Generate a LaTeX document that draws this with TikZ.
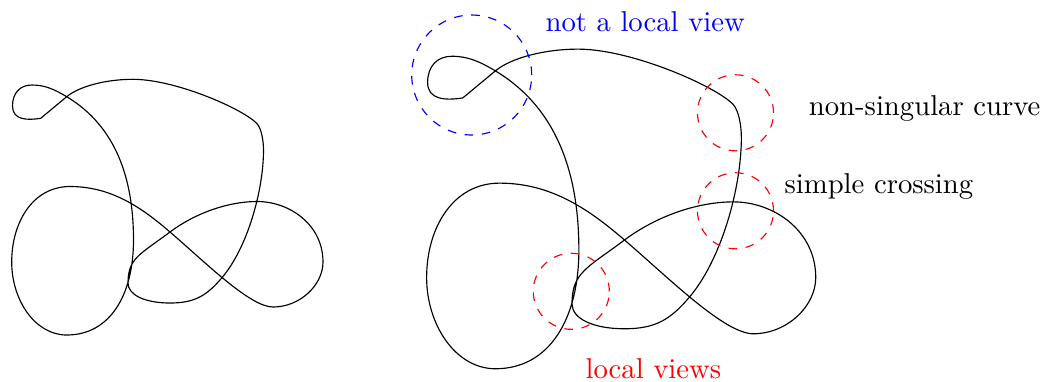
\documentclass[tikz,border=0pt]{standalone}
\begin{document}
\begin{tikzpicture}[x=0.3484pt,y=-0.3484pt,
  curve/.style={black, line width=0.4pt},
  lview/.style={draw=red, dashed, circle, inner sep=0pt, minimum size=26.5pt},
  nlview/.style={draw=blue, dashed, circle, inner sep=0pt, minimum size=41.8pt},
  lbl/.style={inner sep=0pt, anchor=base west},
  knot/.pic={\draw[curve] (40.7,118.3) .. controls (27,120.5) and (12.5,120) .. (12.5,106)
 .. controls (12.5,93) and (20,85) .. (32,85)
 .. controls (45,85) and (54.7,89.5) .. (66.7,96.7)
 .. controls (116.7,126.7) and (133.5,180) .. (133.5,240)
 .. controls (133.5,295) and (110,335) .. (66.7,335)
 .. controls (35,335) and (11.7,300) .. (11.7,262)
 .. controls (11.7,222) and (33,186.5) .. (70,186.5)
 .. controls (110,186.5) and (140,206) .. (170,232)
 .. controls (205,262) and (250,307) .. (273,307)
 .. controls (300,307) and (323,285) .. (323,262)
 .. controls (323,225) and (290,201.5) .. (257,201.5)
 .. controls (228,201.5) and (195,213.25) .. (170,232)
 .. controls (140,254.5) and (128,258) .. (128,283)
 .. controls (128,295) and (145,303) .. (170,303)
 .. controls (195,303) and (206.7,295.5) .. (221.7,278)
 .. controls (247.7,247.6) and (263.5,190) .. (263.5,150)
 .. controls (263.5,140) and (261.2,127.8) .. (256.7,123.3)
 .. controls (241.7,108.3) and (175,79.3) .. (133,79.3)
 .. controls (105,79.3) and (78.7,86.7) .. (66.7,96.7)
 -- (40.7,118.3);}]
\useasboundingbox (0,0) rectangle (1043,381);
\pic at (0,0) {knot};
\pic[scale=1.25] at (412,-50) {knot};
\node[nlview] (nl) at (471.7,75) {};
\node[lview] (ns) at (735.5,112.8) {};
\node[lview] (sc) at (735.5,210.8) {};
\node[lview] (lv) at (571.3,291.3) {};
\node[lbl, blue] (tnl) at (545,31.7) {not a local view};
\node[lbl] (tns) at (808.3,115) {non-singular curve};
\node[lbl] (tsc) at (784,193.3) {simple crossing};
\node[lbl, red] (tlv) at (585,378.3) {local views};
\end{tikzpicture}
\end{document}
